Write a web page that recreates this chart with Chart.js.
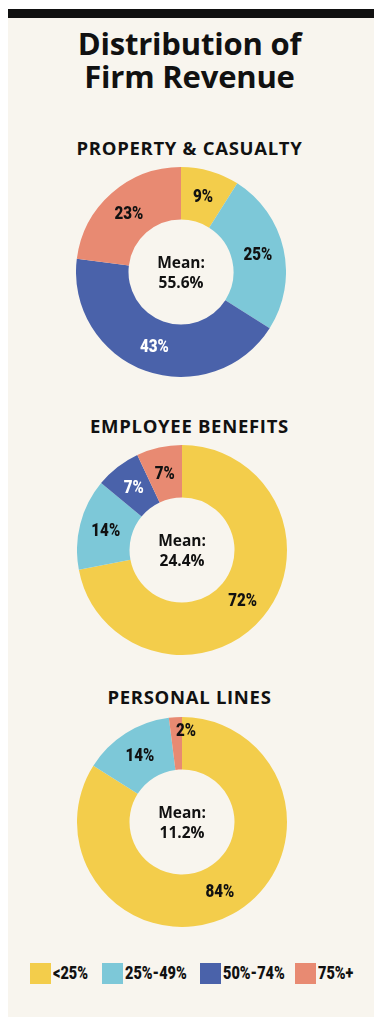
<!DOCTYPE html>
<html>
<head>
<meta charset="utf-8">
<script src="https://cdn.jsdelivr.net/npm/chart.js@4.4.1/dist/chart.umd.min.js"></script>
<style>
  html, body { margin: 0; padding: 0; background: #fff; }
  body { width: 379px; height: 1024px; position: relative; overflow: hidden; font-family: "Open Sans", Roboto, sans-serif; color: #111; }
  .panel { position: absolute; left: 8px; top: 18px; width: 366px; height: 999px; background: #F8F5EE; }
  .bar { position: absolute; left: 8px; top: 9px; width: 366px; height: 9px; background: #111; }
  .title { position: absolute; left: 0; width: 379px; top: 27px; text-align: center; font-weight: 700; font-size: 31px; line-height: 33px; letter-spacing: -0.2px; }
  .sub { position: absolute; left: 0; width: 379px; text-align: center; font-weight: 700; font-size: 18.5px; line-height: 18px; letter-spacing: 0.7px; }
  .donut { position: absolute; width: 210px; height: 210px; }
  .legend { position: absolute; left: 0; top: 963px; width: 379px; height: 21px; }
  .legend i { position: absolute; top: 0; width: 21px; height: 21px; }
  .legend b { position: absolute; top: 0; font-family: Roboto, sans-serif; font-weight: 900; font-size: 17.5px; line-height: 21px; transform: scaleX(0.83); transform-origin: 0 50%; white-space: nowrap; }
</style>
</head>
<body>
<div class="bar"></div>
<div class="panel"></div>
<div class="title">Distribution of<br>Firm Revenue</div>

<div class="sub" style="top:139px">PROPERTY &amp; CASUALTY</div>
<div class="donut" style="left:76px; top:167px"><canvas id="c1"></canvas></div>

<div class="sub" style="top:417px">EMPLOYEE BENEFITS</div>
<div class="donut" style="left:77px; top:445px"><canvas id="c2"></canvas></div>

<div class="sub" style="top:688px">PERSONAL LINES</div>
<div class="donut" style="left:77px; top:717px"><canvas id="c3"></canvas></div>

<div class="legend" id="legend"></div>

<script>
// categorias e valores
var categorias = ['<25%', '25%-49%', '50%-74%', '75%+'];
var cores      = ['#F3CD4B', '#7DC8D8', '#4A62AA', '#E88A72'];
var corTexto   = ['#111', '#111', '#fff', '#111'];

var propertyCasualty   = [9, 25, 43, 23];
var employeeBenefits   = [72, 14, 7, 7];
var personalLines      = [84, 14, 0, 2];

var medias = ['55.6%', '24.4%', '11.2%'];

var fonteRotulo = '900 18.5px Roboto, sans-serif';
var fonteMedia  = 'bold 15.5px "Open Sans", Roboto, sans-serif';

// texto "estreito": escala horizontal no canvas
function textoEstreito(ctx, txt, x, y) {
  ctx.save();
  ctx.translate(x, y);
  ctx.scale(0.82, 1);
  ctx.fillText(txt, 0, 0);
  ctx.restore();
}

// plugin simples: escreve % em cada fatia e a média no meio
var rotulos = {
  id: 'rotulos',
  afterDatasetsDraw: function (chart, args, opts) {
    var ctx = chart.ctx;
    var meta = chart.getDatasetMeta(0);
    var dados = chart.data.datasets[0].data;
    ctx.save();
    ctx.textAlign = 'center';
    ctx.textBaseline = 'middle';
    ctx.font = fonteRotulo;
    meta.data.forEach(function (arc, i) {
      var v = dados[i];
      if (!v) return;
      var p = arc.getCenterPoint();
      if (v < 4) {
        // fatia muito fina: rótulo encostado na borda de fora
        var a = arc.endAngle;
        var r = arc.outerRadius - 13;
        p = { x: arc.x + Math.cos(a) * r + 4, y: arc.y + Math.sin(a) * r };
      }
      ctx.fillStyle = corTexto[i];
      textoEstreito(ctx, v + '%', p.x, p.y + 1);
    });
    var cx = (chart.chartArea.left + chart.chartArea.right) / 2;
    var cy = (chart.chartArea.top + chart.chartArea.bottom) / 2;
    ctx.fillStyle = '#111';
    ctx.font = fonteMedia;
    ctx.fillText('Mean:', cx, cy - 8);
    ctx.fillText(opts.media, cx, cy + 12);
    ctx.restore();
  }
};

function desenha(id, valores, media) {
  new Chart(document.getElementById(id).getContext('2d'), {
    type: 'doughnut',
    data: {
      labels: categorias,
      datasets: [{
        data: valores,
        backgroundColor: cores,
        borderWidth: 0,
      }]
    },
    options: {
      responsive: true,
      maintainAspectRatio: false,
      animation: false,
      cutout: '50%',
      layout: { padding: 0 },
      plugins: {
        legend: { display: false },
        tooltip: { enabled: false },
        rotulos: { media: media },
      }
    },
    plugins: [rotulos]
  });
}

desenha('c1', propertyCasualty, medias[0]);
desenha('c2', employeeBenefits, medias[1]);
desenha('c3', personalLines, medias[2]);

// legenda comum aos três gráficos
var legendaX = [30, 102, 200, 295];
document.getElementById('legend').innerHTML = categorias.map(function (c, i) {
  return '<i style="left:' + legendaX[i] + 'px; background:' + cores[i] + '"></i>' +
    '<b style="left:' + (legendaX[i] + 23) + 'px">' + c.replace('<', '&lt;') + '</b>';
}).join('');
</script>
</body>
</html>
